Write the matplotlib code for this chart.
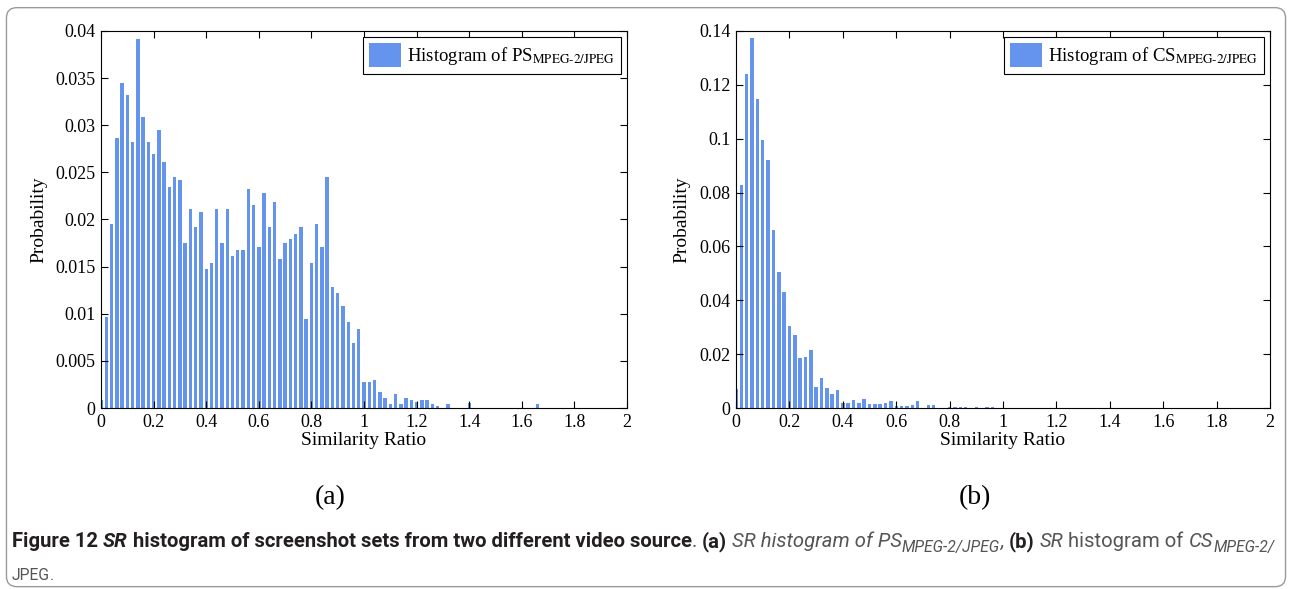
import numpy as np
import matplotlib
matplotlib.use('Agg')
import matplotlib.pyplot as plt
from matplotlib.patches import FancyBboxPatch

# histogram bins are 0.02 wide, bin k is centred on k*0.02
bin_width = 0.02

ps_prob = [0.0008, 0.0097, 0.0195, 0.0286, 0.0345, 0.0332, 0.0282, 0.0392, 0.0309, 0.0282,
           0.0269, 0.0295, 0.0261, 0.0235, 0.0245, 0.0242, 0.0175, 0.0211, 0.0192, 0.0208,
           0.0148, 0.0154, 0.0211, 0.0175, 0.0211, 0.0161, 0.0168, 0.0168, 0.0232, 0.0215,
           0.0171, 0.0228, 0.0192, 0.0219, 0.0158, 0.0175, 0.0179, 0.0185, 0.0192, 0.0094,
           0.0154, 0.0195, 0.0171, 0.0245, 0.0128, 0.0122, 0.0108, 0.0091, 0.0069, 0.0084,
           0.0028, 0.0028, 0.0030, 0.0017, 0.0011, 0.0004, 0.0015, 0.0004, 0.0011, 0.0008,
           0.0006, 0.0008, 0.0008, 0.0004, 0.0002, 0.0, 0.0004, 0.0, 0.0, 0.0,
           0.0005, 0.0, 0.0, 0.0, 0.0, 0.0, 0.0, 0.0, 0.0, 0.0,
           0.0, 0.0, 0.0, 0.0004]

cs_prob = [0.0071, 0.0827, 0.1239, 0.1373, 0.1146, 0.0997, 0.0920, 0.0662, 0.0505, 0.0430,
           0.0306, 0.0272, 0.0186, 0.0188, 0.0216, 0.0077, 0.0112, 0.0074, 0.0052, 0.0067,
           0.0018, 0.0018, 0.0030, 0.0017, 0.0032, 0.0014, 0.0013, 0.0016, 0.0020, 0.0026,
           0.0007, 0.0009, 0.0009, 0.0011, 0.0025, 0.0, 0.0010, 0.0010, 0.0, 0.0,
           0.0004, 0.0005, 0.0005, 0.0005, 0.0, 0.0005, 0.0, 0.0005, 0.0005]

x_ticks   = np.arange(0, 2.001, 0.2)
ps_yticks = np.arange(0, 0.04001, 0.005)
cs_yticks = np.arange(0, 0.14001, 0.02)

ps_label = r'Histogram of PS$_{\text{MPEG-2/JPEG}}$'
cs_label = r'Histogram of CS$_{\text{MPEG-2/JPEG}}$'

bar_color = '#6494ee'

plt.rcParams['font.family'] = 'Liberation Serif'
plt.rcParams['mathtext.fontset'] = 'stix'

fig = plt.figure(figsize=(12.92, 5.89), dpi=100)
ax1 = fig.add_axes([0.0782, 0.3073, 0.4071, 0.6401])
ax2 = fig.add_axes([0.5697, 0.3073, 0.4133, 0.6401])

def draw_hist(ax, probs, yticks, label):
  centers = np.arange(len(probs)) * bin_width
  ax.bar(centers, probs, width=0.65*bin_width, color=bar_color, linewidth=0, label=label)
  ax.set_xlim(0, 2)
  ax.set_ylim(yticks[0], yticks[-1])
  ax.set_xticks(x_ticks)
  ax.set_yticks(yticks)
  ax.set_xticklabels(['%g' % round(v, 3) for v in x_ticks])
  ax.set_yticklabels(['%g' % round(v, 4) for v in yticks])
  ax.tick_params(direction='in', top=True, right=True, length=5, width=0.8, labelsize=13, pad=4)
  for s in ax.spines.values():
    s.set_linewidth(0.8)
  ax.set_xlabel('Similarity Ratio', fontsize=14, labelpad=1)
  ax.set_ylabel('Probability', fontsize=14, labelpad=6)
  leg = ax.legend(loc='upper right', fancybox=False, edgecolor='black', framealpha=1,
                  borderaxespad=0.3, handlelength=1.7, handleheight=1.6, handletextpad=0.3,
                  borderpad=0.35, fontsize=13.5)
  leg.get_frame().set_linewidth(0.8)

draw_hist(ax1, ps_prob, ps_yticks, ps_label)
draw_hist(ax2, cs_prob, cs_yticks, cs_label)

fig.text(0.2554, 0.156, '(a)', fontsize=20, ha='center', va='center')
fig.text(0.7546, 0.156, '(b)', fontsize=20, ha='center', va='center')

# caption, drawn piece by piece: (text, weight, style, subscript, colour)
dark = '#231f20'
grey = '#555555'
cap_line1 = [('Figure 12', 'bold', 'normal', False, dark), (' ', 'bold', 'normal', False, dark),
             ('SR', 'bold', 'italic', False, dark),
             (' histogram of screenshot sets from two different video source', 'bold', 'normal', False, dark),
             ('.', 'normal', 'normal', False, grey), (' ', 'normal', 'normal', False, grey),
             ('(a)', 'bold', 'normal', False, dark), (' ', 'normal', 'normal', False, grey),
             ('SR histogram of PS', 'normal', 'italic', False, grey),
             ('MPEG-2/JPEG', 'normal', 'italic', True, grey), (',', 'normal', 'italic', False, grey),
             (' ', 'normal', 'normal', False, grey),
             ('(b)', 'bold', 'normal', False, dark), (' ', 'normal', 'normal', False, grey),
             ('SR', 'normal', 'italic', False, grey), (' histogram of ', 'normal', 'normal', False, grey),
             ('CS', 'normal', 'italic', False, grey), ('MPEG-2/', 'normal', 'italic', True, grey)]
cap_line2 = [('JPEG', 'normal', 'normal', True, grey), ('.', 'normal', 'normal', True, grey)]

renderer = fig.canvas.get_renderer()
W = fig.bbox.width

def piece_width(txt, fs, weight, style):
  # spaces are measured as the difference of two strings so they are not dropped
  if txt.strip() == '':
    a = fig.text(0, 0, 'x' + txt + 'x', fontsize=fs, fontweight=weight, family='Roboto')
    b = fig.text(0, 0, 'xx', fontsize=fs, fontweight=weight, family='Roboto')
    w = a.get_window_extent(renderer).width - b.get_window_extent(renderer).width
    a.remove(); b.remove()
    return w
  t = fig.text(0, 0, txt, fontsize=fs, fontweight=weight, fontstyle=style, family='Roboto')
  w = t.get_window_extent(renderer).width
  t.remove()
  return w

def draw_caption(pieces, x0, y, size):
  x = x0
  for txt, weight, style, sub, col in pieces:
    fs = size*0.78 if sub else size
    yy = y - (5.0/589 if sub else 0)
    if txt.strip() != '':
      fig.text(x, yy, txt, fontsize=fs, fontweight=weight, fontstyle=style,
               family='Roboto', color=col, va='baseline')
    x += piece_width(txt, fs, weight, style) / W
  return x

base = 13.0
total = sum(piece_width(p[0], base*0.78 if p[3] else base, p[1], p[2]) for p in cap_line1)
size = base * (1266.0 / total)
draw_caption(cap_line1, 12.0/W, 1 - 547.0/589, size)
draw_caption(cap_line2, 12.0/W, 1 - 575.0/589, size)

border = FancyBboxPatch((0.005, 0.004), 0.99, 0.983, boxstyle='round,pad=0,rounding_size=0.008',
                        transform=fig.transFigure, fill=False, edgecolor='#9a9a9a', linewidth=1.0,
                        mutation_aspect=1292.0/589)
fig.patches.append(border)

fig.savefig('out.png', dpi=100)
